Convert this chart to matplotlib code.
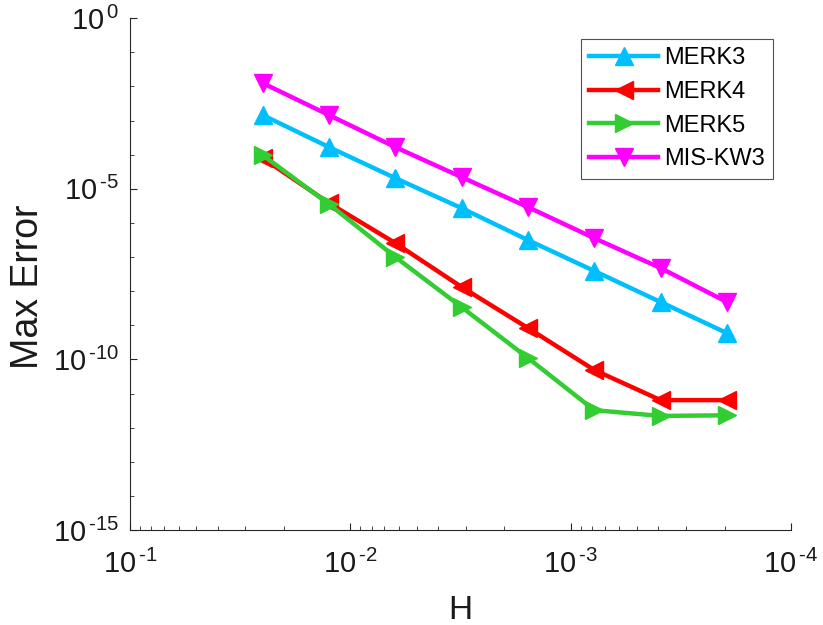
import matplotlib
matplotlib.use("Agg")
import matplotlib.pyplot as plt
import numpy as np
from matplotlib.ticker import NullFormatter, FixedLocator, FuncFormatter

plt.rcParams['font.family'] = ['Liberation Sans', 'DejaVu Sans']
plt.rcParams['mathtext.fontset'] = 'custom'
plt.rcParams['mathtext.rm'] = 'Liberation Sans'
plt.rcParams['mathtext.it'] = 'Liberation Sans'
plt.rcParams['mathtext.bf'] = 'Liberation Sans'
plt.rcParams['mathtext.sf'] = 'Liberation Sans'

H = [0.025, 0.0125, 0.00625, 0.003125, 0.0015625, 0.00078125, 0.000390625, 0.0001953125]
merk3 = [1.44e-3, 1.66e-4, 2.05e-5, 2.7e-6, 3.14e-7, 3.9e-8, 4.8e-9, 5.9e-10]
merk4 = [7.9e-5, 3.8e-6, 2.56e-7, 1.32e-8, 8.3e-10, 4.9e-11, 6.4e-12, 6.4e-12]
merk5 = [9.7e-5, 3.55e-6, 1.0e-7, 3.4e-9, 1.1e-10, 3.25e-12, 2.2e-12, 2.3e-12]
miskw3 = [1.25e-2, 1.44e-3, 1.66e-4, 2.19e-5, 2.9e-6, 3.57e-7, 4.75e-8, 4.8e-9]

series = [
    ("MERK3", merk3, "#00BFFF", "^"),
    ("MERK4", merk4, "#FF0000", "<"),
    ("MERK5", merk5, "#32CD32", ">"),
    ("MIS-KW3", miskw3, "#FF00FF", "v"),
]


def fmt(v, pos):
    e = int(round(np.log10(v)))
    if e < 0:
        return r'$10^{\,\text{-%d}}$' % (-e)
    return r'$10^{\,%d}$' % e


fig = plt.figure(figsize=(8.23, 6.25), dpi=100)
ax = fig.add_axes([0.158, 0.152, 0.803, 0.819])

for name, vals, col, mk in series:
    ax.loglog(H, vals, color=col, marker=mk, markersize=13, linewidth=3.2, label=name)

ax.set_xlim(1e-1, 1e-4)
ax.set_ylim(1e-15, 1e0)

ax.yaxis.set_major_locator(FixedLocator([1e-15, 1e-10, 1e-5, 1e0]))
ax.yaxis.set_minor_locator(FixedLocator([10.0**(-k) for k in range(1, 15) if k % 5 != 0]))
ax.yaxis.set_major_formatter(FuncFormatter(fmt))
ax.yaxis.set_minor_formatter(NullFormatter())
ax.xaxis.set_major_locator(FixedLocator([1e-4, 1e-3, 1e-2, 1e-1]))
ax.xaxis.set_major_formatter(FuncFormatter(fmt))
ax.xaxis.set_minor_formatter(NullFormatter())

for s in ['top', 'right']:
    ax.spines[s].set_visible(False)
for s in ['left', 'bottom']:
    ax.spines[s].set_color('#262626')
    ax.spines[s].set_linewidth(0.8)

ax.tick_params(which='both', direction='in', colors='#262626', labelcolor='#1a1a1a')
ax.tick_params(which='major', length=5, width=0.8, labelsize=21)
ax.tick_params(axis='y', which='major', pad=8)
ax.tick_params(axis='x', which='major', pad=14)
ax.tick_params(which='minor', length=3, width=0.6)

ax.set_xlabel("H", fontsize=24, color='#1a1a1a', labelpad=12)
ax.set_ylabel("Max Error", fontsize=27, color='#1a1a1a', labelpad=5)
ax.yaxis.label.set_y(0.475)

leg = ax.legend(loc='upper right', bbox_to_anchor=(0.939, 0.938), bbox_transform=fig.transFigure,
                borderaxespad=0, fontsize=17, frameon=True, fancybox=False, edgecolor='#262626',
                handlelength=2.9, borderpad=0.35, labelspacing=0.5, handletextpad=0.25, markerscale=1.0)
leg.get_frame().set_linewidth(0.8)

fig.savefig("out.png", dpi=100)
